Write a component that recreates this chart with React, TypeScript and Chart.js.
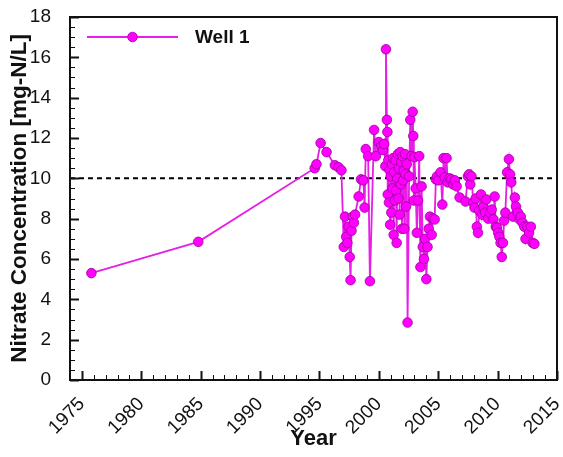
import React, { useEffect, useRef } from "react";
import { Chart, registerables } from "chart.js";

Chart.register(...registerables);

const SERIES_LABEL = "Well 1";
const X_TITLE = "Year";
const Y_TITLE = "Nitrate Concentration [mg-N/L]";
const X_TICKS = [1975, 1980, 1985, 1990, 1995, 2000, 2005, 2010, 2015];
const Y_TICKS = [0, 2, 4, 6, 8, 10, 12, 14, 16, 18];
const THRESHOLD = 10;

const YEARS = [
  1975.8, 1984.8, 1994.6, 1994.75, 1995.1, 1995.6, 1996.3, 1996.6, 1996.85,
  1997.05, 1997.15, 1997.25, 1997.35, 1997.45, 1997.55, 1997.62, 1997.7, 1997.8, 1997.9,
  1998.0, 1998.3, 1998.5, 1998.7, 1998.8, 1998.9, 1999.1, 1999.25, 1999.6, 1999.75,
  2000.0, 2000.2, 2000.35, 2000.45, 2000.55, 2000.6, 2000.68, 2000.72, 2000.75, 2000.8,
  2000.85, 2000.9, 2000.95, 2001.0, 2001.05, 2001.1, 2001.15, 2001.2, 2001.25, 2001.3,
  2001.35, 2001.4, 2001.45, 2001.5, 2001.55, 2001.6, 2001.65, 2001.7, 2001.75, 2001.8,
  2001.85, 2001.9, 2001.95, 2002.0, 2002.05, 2002.1, 2002.15, 2002.2, 2002.25, 2002.3,
  2002.35, 2002.42, 2002.55, 2002.65, 2002.75, 2002.85, 2002.9, 2002.95, 2003.0, 2003.1,
  2003.2, 2003.3, 2003.4, 2003.5, 2003.6, 2003.7, 2003.8, 2003.9, 2004.0, 2004.1,
  2004.2, 2004.3, 2004.45, 2004.55, 2004.7, 2004.8, 2004.9, 2005.0, 2005.2, 2005.35,
  2005.45, 2005.55, 2005.7, 2005.8, 2005.95, 2006.1, 2006.25, 2006.4, 2006.55, 2006.8,
  2007.3, 2007.5, 2007.6, 2007.7, 2007.8, 2007.95, 2008.05, 2008.15, 2008.25, 2008.35,
  2008.45, 2008.6, 2008.7, 2008.8, 2008.95, 2009.05, 2009.2, 2009.35, 2009.5, 2009.65,
  2009.75, 2009.85, 2009.95, 2010.05, 2010.15, 2010.25, 2010.35, 2010.45, 2010.55, 2010.65,
  2010.8, 2010.95, 2011.05, 2011.15, 2011.3, 2011.45, 2011.55, 2011.7, 2011.85, 2011.95,
  2012.1, 2012.25, 2012.35, 2012.5, 2012.65, 2012.8, 2012.95, 2013.1,
];

const NITRATE = [
  5.3, 6.85, 10.5, 10.7, 11.75, 11.3, 10.65, 10.55, 10.4,
  6.6, 8.1, 7.1, 6.8, 7.6, 6.1, 4.95, 7.4, 8.1, 7.8,
  8.2, 9.1, 9.95, 9.9, 8.55, 11.45, 11.1, 4.9, 12.4, 11.1,
  11.8, 11.6, 11.4, 11.7, 10.6, 16.4, 12.9, 12.3, 9.2, 10.9,
  8.8, 10.4, 7.7, 10.1, 8.3, 10.7, 9.5, 11.0, 7.2, 10.3,
  8.9, 10.9, 9.4, 6.8, 10.0, 11.2, 9.0, 10.5, 8.2, 11.3,
  9.7, 10.8, 7.5, 11.1, 9.9, 10.4, 7.5, 11.2, 10.2, 8.6,
  10.7, 2.85, 10.1, 12.9, 11.1, 13.3, 12.1, 8.9, 11.05, 9.5,
  7.3, 8.9, 11.1, 5.6, 9.6, 6.6, 6.0, 7.0, 5.0, 6.6,
  7.5, 8.1, 7.2, 8.0, 7.96, 9.95, 10.1, 9.9, 10.3, 8.7,
  11.0, 10.05, 11.0, 9.8, 10.0, 9.95, 9.7, 9.9, 9.6, 9.05,
  8.85, 10.1, 10.2, 9.7, 10.1, 8.8, 8.55, 9.0, 7.6, 7.3,
  8.4, 9.2, 8.2, 8.6, 8.3, 8.95, 8.0, 8.3, 8.45, 7.96,
  9.1, 7.6, 7.55, 7.3, 7.1, 6.8, 6.1, 6.8, 7.9, 8.3,
  10.3, 10.95, 10.2, 9.8, 8.1, 9.05, 8.6, 8.3, 7.96, 8.1,
  7.8, 7.6, 7.0, 7.6, 7.3, 7.6, 6.8, 6.75,
];

const FONT = "'Liberation Sans', Arial, sans-serif";
const MAGENTA = "#ff00ff";
const LINE_COLOR = "#e61ee6";

const decorPlugin = {
  id: "decor",
  beforeDatasetsDraw(chart: any) {
    const { ctx, chartArea } = chart;
    const y = chart.scales.y.getPixelForValue(THRESHOLD);
    ctx.save();
    ctx.strokeStyle = "#000";
    ctx.lineWidth = 2;
    ctx.setLineDash([5, 4]);
    ctx.beginPath();
    ctx.moveTo(chartArea.left, y);
    ctx.lineTo(chartArea.right, y);
    ctx.stroke();
    ctx.restore();
  },
  afterDatasetsDraw(chart: any) {
    const { ctx, chartArea } = chart;
    const xs = chart.scales.x;
    const ys = chart.scales.y;
    ctx.save();
    ctx.strokeStyle = "#111";
    for (let v = Math.ceil(xs.min); v <= xs.max; v++) {
      const px = Math.round(xs.getPixelForValue(v)) + 0.5;
      const major = v % 5 === 0;
      ctx.lineWidth = major ? 2 : 1;
      ctx.beginPath();
      ctx.moveTo(px, chartArea.bottom);
      ctx.lineTo(px, chartArea.bottom - (major ? 9 : 5));
      ctx.stroke();
    }
    for (let v = ys.min; v <= ys.max + 1e-9; v += 0.5) {
      const py = Math.round(ys.getPixelForValue(v)) + 0.5;
      const major = Math.abs(v % 2) < 1e-9;
      ctx.lineWidth = major ? 2 : 1;
      ctx.beginPath();
      ctx.moveTo(chartArea.left, py);
      ctx.lineTo(chartArea.left + (major ? 9 : 5), py);
      ctx.stroke();
    }
    ctx.lineWidth = 2;
    ctx.strokeStyle = "#111";
    ctx.strokeRect(chartArea.left, chartArea.top, chartArea.right - chartArea.left, chartArea.bottom - chartArea.top);
    // legend
    const ly = chartArea.top + 20;
    const lx0 = chartArea.left + 17;
    const lx1 = chartArea.left + 108;
    ctx.strokeStyle = LINE_COLOR;
    ctx.lineWidth = 2;
    ctx.beginPath();
    ctx.moveTo(lx0, ly);
    ctx.lineTo(lx1, ly);
    ctx.stroke();
    ctx.beginPath();
    ctx.arc((lx0 + lx1) / 2, ly, 4.8, 0, Math.PI * 2);
    ctx.fillStyle = MAGENTA;
    ctx.fill();
    ctx.lineWidth = 0.8;
    ctx.strokeStyle = "#a000a0";
    ctx.stroke();
    ctx.fillStyle = "#111";
    ctx.font = `bold 19px ${FONT}`;
    ctx.textBaseline = "middle";
    ctx.textAlign = "left";
    ctx.fillText(SERIES_LABEL, lx1 + 17, ly + 1);
    ctx.restore();
  },
};

export default function App() {
  const ref = useRef<HTMLCanvasElement | null>(null);
  useEffect(() => {
    if (!ref.current) return;
    const data = YEARS.map((x, i) => ({ x, y: NITRATE[i] }));
    const chart = new Chart(ref.current, {
      type: "line",
      data: {
        datasets: [
          {
            label: SERIES_LABEL,
            data,
            borderColor: LINE_COLOR,
            borderWidth: 1.8,
            backgroundColor: MAGENTA,
            pointBackgroundColor: MAGENTA,
            pointBorderColor: "#9a009a",
            pointBorderWidth: 0.8,
            pointRadius: 4.8,
            tension: 0,
            fill: false,
          },
        ],
      },
      options: {
        responsive: false,
        animation: false,
        layout: { padding: { top: 17, right: 6, left: 0, bottom: 0 } },
        plugins: { legend: { display: false }, tooltip: { enabled: false } },
        scales: {
          x: {
            type: "linear",
            min: 1974,
            max: 2015,
            afterBuildTicks: (s: any) => {
              s.ticks = X_TICKS.map((v) => ({ value: v }));
            },
            afterFit: (s: any) => {
              s.height = 77;
              s.paddingLeft = 0;
              s.paddingRight = 0;
            },
            grid: { display: false },
            border: { display: false },
            ticks: {
              minRotation: 45,
              maxRotation: 45,
              padding: 5,
              color: "#111",
              font: { family: FONT, size: 19 },
              callback: (v: any) => String(v),
            },
            title: {
              display: true,
              text: X_TITLE,
              color: "#111",
              font: { family: FONT, size: 22, weight: "bold" },
              padding: { top: 0, bottom: 5 },
            },
          },
          y: {
            type: "linear",
            min: 0,
            max: 18,
            afterBuildTicks: (s: any) => {
              s.ticks = Y_TICKS.map((v) => ({ value: v }));
            },
            afterFit: (s: any) => {
              s.width = 70;
              s.paddingTop = 0;
              s.paddingBottom = 0;
            },
            grid: { display: false },
            border: { display: false },
            ticks: {
              padding: 11,
              color: "#111",
              font: { family: FONT, size: 19 },
              callback: (v: any) => String(v),
            },
            title: {
              display: true,
              text: Y_TITLE,
              color: "#111",
              font: { family: FONT, size: 22.5, weight: "bold" },
              padding: { top: 6, bottom: 0 },
            },
          },
        },
      },
      plugins: [decorPlugin],
    });
    return () => chart.destroy();
  }, []);
  return (
    <div style={{ position: "absolute", left: 0, top: 0, width: 563, height: 457, background: "#fff" }}>
      <canvas ref={ref} width={563} height={457} style={{ width: 563, height: 457 }} />
    </div>
  );
}
